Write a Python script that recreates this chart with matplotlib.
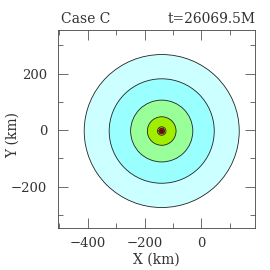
import matplotlib
matplotlib.use('Agg')
import matplotlib.pyplot as plt
from matplotlib.patches import Ellipse
from matplotlib.ticker import MultipleLocator

plt.rcParams['font.family'] = ['DejaVu Serif', 'Liberation Serif']

# contour levels, outermost first: widths/heights in km
level_width = [546, 370, 219, 101, 30, 21, 10]
level_height = [542, 370, 219, 101, 30, 21, 10]
level_colors = ['#ccffff', '#99ffff', '#99ff99', '#a0ee00',
                '#ffee00', '#dd0000', '#880000']
center_x = -140
center_y = -3

case_label = 'Case C'
time_label = 't=26069.5M'

text_color = '#333333'

fig = plt.figure(figsize=(2.7, 2.7), dpi=100)
ax = fig.add_axes([0.213, 0.154, 0.733, 0.735])

for w, h, c in zip(level_width, level_height, level_colors):
    ax.add_patch(Ellipse((center_x, center_y), w, h, facecolor=c,
                         edgecolor='#222222', linewidth=0.6))

ax.set_xlim(-507, 190)
ax.set_ylim(-348, 355)
ax.xaxis.set_major_locator(MultipleLocator(200))
ax.xaxis.set_minor_locator(MultipleLocator(100))
ax.yaxis.set_major_locator(MultipleLocator(200))
ax.yaxis.set_minor_locator(MultipleLocator(100))
ax.tick_params(which='both', direction='in', top=True, right=True,
               color='#555555', width=0.6, labelsize=9.5,
               labelcolor=text_color)
ax.tick_params(axis='x', which='both', pad=6)
ax.tick_params(axis='y', which='both', pad=7.5)
ax.tick_params(which='major', length=7)
ax.tick_params(which='minor', length=3.5)
for s in ax.spines.values():
    s.set_linewidth(0.6)
    s.set_color('#444444')

ax.set_xlabel('X (km)', fontsize=10, labelpad=2, color=text_color)
ax.set_ylabel('Y (km)', fontsize=10, color=text_color)
ax.yaxis.set_label_coords(-0.19, 0.47)
ax.text(0.02, 1.02, case_label, transform=ax.transAxes, fontsize=10,
        ha='left', va='bottom', color=text_color)
ax.text(1.0, 1.02, time_label, transform=ax.transAxes, fontsize=10,
        ha='right', va='bottom', color=text_color)

fig.savefig('out.png', dpi=100)
